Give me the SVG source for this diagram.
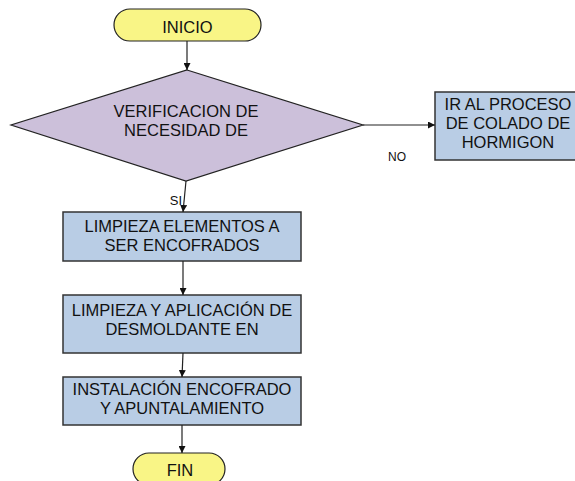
<svg xmlns="http://www.w3.org/2000/svg" width="575" height="481" viewBox="0 0 575 481">
<style>
text{font-family:"Liberation Sans",Arial,sans-serif;font-size:16.5px;fill:#111;text-anchor:middle}
.term{fill:#f9f586;stroke:#222;stroke-width:1.2}
.dec{fill:#ccc0da;stroke:#222;stroke-width:1.2}
.box{fill:#b9cde5;stroke:#333;stroke-width:1.5}
.lbl{font-size:12px}
.conn line{stroke:#222;stroke-width:1.2;marker-end:url(#ah)}
</style>
<defs>
<marker id="ah" viewBox="0 0 10 10" refX="10" refY="5" markerWidth="7" markerHeight="7" markerUnits="userSpaceOnUse" orient="auto">
<path d="M0,0 L10,5 L0,10 z" fill="#111"/>
</marker>
</defs>
<rect width="575" height="481" fill="#fff"/>
<g id="inicio">
<rect class="term" x="114" y="9" width="147" height="32" rx="16" ry="16"/>
<text x="187.5" y="33">INICIO</text>
</g>
<g id="verificacion">
<polygon class="dec" points="187,70 363,125 186,181 11,125"/>
<text x="186" y="117">VERIFICACION DE</text>
<text x="186" y="136">NECESIDAD DE</text>
</g>
<g id="ir-proceso">
<rect class="box" x="435" y="92" width="148" height="68"/>
<text x="508" y="110">IR AL PROCESO</text>
<text x="508" y="129">DE COLADO DE</text>
<text x="508" y="148">HORMIGON</text>
</g>
<g id="limpieza-elementos">
<rect class="box" x="63" y="212" width="238" height="49"/>
<text x="182" y="232">LIMPIEZA ELEMENTOS A</text>
<text x="182" y="251">SER ENCOFRADOS</text>
</g>
<g id="limpieza-desmoldante">
<rect class="box" x="63" y="295" width="238" height="58"/>
<text x="182" y="316">LIMPIEZA Y APLICACIÓN DE</text>
<text x="182" y="335">DESMOLDANTE EN</text>
</g>
<g id="instalacion">
<rect class="box" x="63" y="377" width="238" height="48"/>
<text x="182" y="395">INSTALACIÓN ENCOFRADO</text>
<text x="182" y="414">Y APUNTALAMIENTO</text>
</g>
<g id="fin">
<rect class="term" x="133" y="453" width="92" height="32" rx="16" ry="16"/>
<text x="180" y="476">FIN</text>
</g>
<g id="connectors" class="conn">
<line x1="187" y1="41" x2="187" y2="70"/>
<line x1="363" y1="125" x2="435" y2="125"/>
<line x1="186" y1="181" x2="183" y2="212"/>
<line x1="183" y1="261" x2="183" y2="295"/>
<line x1="183" y1="353" x2="182" y2="377"/>
<line x1="182" y1="425" x2="182" y2="453"/>
<text class="lbl" x="397" y="161">NO</text>
<text class="lbl" style="font-size:13px" x="176" y="205">SI</text>
</g>
</svg>
